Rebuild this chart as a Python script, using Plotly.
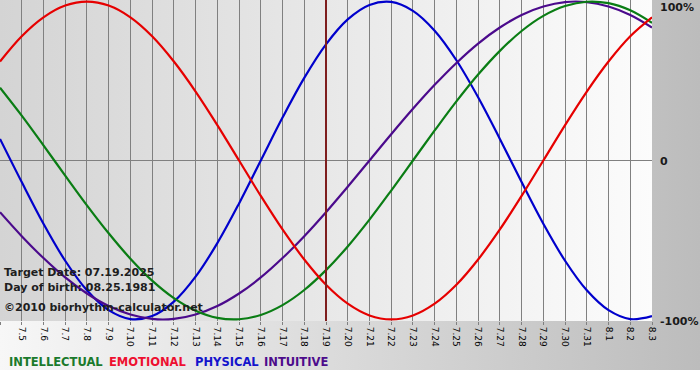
import base64
import plotly.graph_objects as go

# ---------------- data ----------------
dates = ["7.4", "7.5", "7.6", "7.7", "7.8", "7.9", "7.10", "7.11", "7.12", "7.13",
         "7.14", "7.15", "7.16", "7.17", "7.18", "7.19", "7.20", "7.21", "7.22", "7.23",
         "7.24", "7.25", "7.26", "7.27", "7.28", "7.29", "7.30", "7.31", "8.1", "8.2", "8.3"]

physical = [13.6, -13.6, -39.8, -63.1, -81.7, -94.2, -99.8, -97.9, -88.8, -73.1,
            -52.0, -27.0, 0.0, 27.0, 52.0, 73.1, 88.8, 97.9, 99.8, 94.2,
            81.7, 63.1, 39.8, 13.6, -13.6, -39.8, -63.1, -81.7, -94.2, -99.8, -97.9]

emotional = [62.3, 78.2, 90.1, 97.5, 100.0, 97.5, 90.1, 78.2, 62.3, 43.4,
             22.3, 0.0, -22.3, -43.4, -62.3, -78.2, -90.1, -97.5, -100.0, -97.5,
             -90.1, -78.2, -62.3, -43.4, -22.3, 0.0, 22.3, 43.4, 62.3, 78.2, 90.1]

intellectual = [45.8, 28.2, 9.5, -9.5, -28.2, -45.8, -61.8, -75.6, -86.6, -94.5,
                -99.0, -99.9, -97.2, -91.0, -81.5, -69.0, -54.1, -37.2, -18.9, 0.0,
                18.9, 37.2, 54.1, 69.0, 81.5, 91.0, 97.2, 99.9, 99.0, 94.5, 86.6]

intuitive = [-32.5, -47.6, -61.4, -73.6, -83.7, -91.6, -96.9, -99.7, -99.7, -96.9,
             -91.6, -83.7, -73.6, -61.4, -47.6, -32.5, -16.5, 0.0, 16.5, 32.5,
             47.6, 61.4, 73.6, 83.7, 91.6, 96.9, 99.7, 99.7, 96.9, 91.6, 83.7]

target_label = "7.19"
y_tick_values = [100, 0, -100]
y_tick_labels = ["100%", "0", "-100%"]
info_lines = ["Target Date: 07.19.2025", "Day of birth: 08.25.1981",
              "\u00a92010 biorhythm-calculator.net"]
legend_names = ["INTELLECTUAL", "EMOTIONAL", "PHYSICAL", "INTUITIVE"]

# ---------------- styling / layout ----------------
W, H = 700, 380
ML, MR, MT, MB = 0, 48, 0, 59
PW, PH = W - ML - MR, H - MT - MB

FONT = "DejaVu Sans"
C_INT = "#0a7d14"
C_EMO = "#e60000"
C_PHY = "#0000cc"
C_ITU = "#4b0a8c"
legend_colors = ["#1b7a2c", "#ee1030", "#1414cc", "#4d0c8c"]
legend_x_px = [7, 107, 193, 262]
info_y_px = [272, 287, 307]


def px_to_paper_y(py):
    return 1 - (py - MT) / PH


def gradient_uri(c1, c2, w, h):
    svg = ('<svg xmlns="http://www.w3.org/2000/svg" width="%d" height="%d" '
           'viewBox="0 0 %d %d" preserveAspectRatio="none">'
           '<defs><linearGradient id="g" x1="0" y1="0" x2="1" y2="0">'
           '<stop offset="0" stop-color="%s"/><stop offset="1" stop-color="%s"/>'
           '</linearGradient></defs>'
           '<rect x="0" y="0" width="%d" height="%d" fill="url(#g)"/></svg>'
           % (w, h, w, h, c1, c2, w, h))
    return "data:image/svg+xml;base64," + base64.b64encode(svg.encode()).decode()


xs = list(range(len(dates)))

fig = go.Figure()
for vals, col in [(physical, C_PHY), (intuitive, C_ITU),
                  (intellectual, C_INT), (emotional, C_EMO)]:
    fig.add_trace(go.Scatter(x=xs, y=vals, mode="lines",
                             line=dict(color=col, width=2.2, shape="spline"),
                             hoverinfo="skip", showlegend=False))

target_x = dates.index(target_label)
fig.add_shape(type="line", xref="x", yref="paper", x0=target_x, x1=target_x,
              y0=0, y1=1, line=dict(color="#7e1e1e", width=2), layer="above")

images = [
    dict(source=gradient_uri("#f7f7f7", "#bcbcbc", W, 370), xref="paper", yref="paper",
         x=-ML / PW, y=1 + MT / PH, sizex=W / PW, sizey=370 / PH,
         xanchor="left", yanchor="top", sizing="stretch", layer="below"),
    dict(source=gradient_uri("#d4d4d4", "#fcfcfc", PW, PH), xref="paper", yref="paper",
         x=0, y=1, sizex=1, sizey=1,
         xanchor="left", yanchor="top", sizing="stretch", layer="below"),
]

annotations = []
# right-side percentage labels
for v, t, ys in zip(y_tick_values, y_tick_labels, [-6, -1, -2]):
    annotations.append(dict(text=t, xref="paper", yref="y", x=1, y=v, xanchor="left",
                            yanchor="middle", xshift=6, yshift=ys, showarrow=False,
                            font=dict(family=FONT, size=11, color="#1a1a1a", weight="bold")))
# info text
for t, py in zip(info_lines, info_y_px):
    annotations.append(dict(text=t, xref="paper", yref="paper", x=0, y=px_to_paper_y(py),
                            xanchor="left", yanchor="middle", xshift=2, showarrow=False,
                            font=dict(family=FONT, size=11, color="#1e1e1e", weight="bold")))
# legend text
for t, c, lx in zip(legend_names, legend_colors, legend_x_px):
    annotations.append(dict(text=t, xref="paper", yref="paper", x=(lx - ML) / PW,
                            y=px_to_paper_y(362), xanchor="left", yanchor="middle",
                            showarrow=False,
                            font=dict(family=FONT, size=11.5, color=c, weight="bold")))

fig.update_layout(
    width=W, height=H,
    margin=dict(l=ML, r=MR, t=MT, b=MB, pad=0),
    paper_bgcolor="#ffffff",
    plot_bgcolor="rgba(0,0,0,0)",
    images=images,
    annotations=annotations,
    showlegend=False,
    hovermode=False,
    xaxis=dict(range=[0, len(dates) - 1], tickmode="array", tickvals=xs, ticktext=dates,
               tickangle=90, showgrid=True, gridcolor="#808080", gridwidth=1,
               ticks="outside", ticklen=3, tickcolor="#808080", zeroline=False,
               showline=False, tickfont=dict(family=FONT, size=9, color="#000000"),
               fixedrange=True),
    yaxis=dict(range=[-101, 101], showticklabels=False, showgrid=False, zeroline=True,
               zerolinecolor="#808080", zerolinewidth=1, ticks="", showline=False,
               fixedrange=True),
)

fig.write_html("out.html", config={"displayModeBar": False},
               post_script="document.body.style.margin='0';"
                           "document.body.style.overflow='hidden';")
